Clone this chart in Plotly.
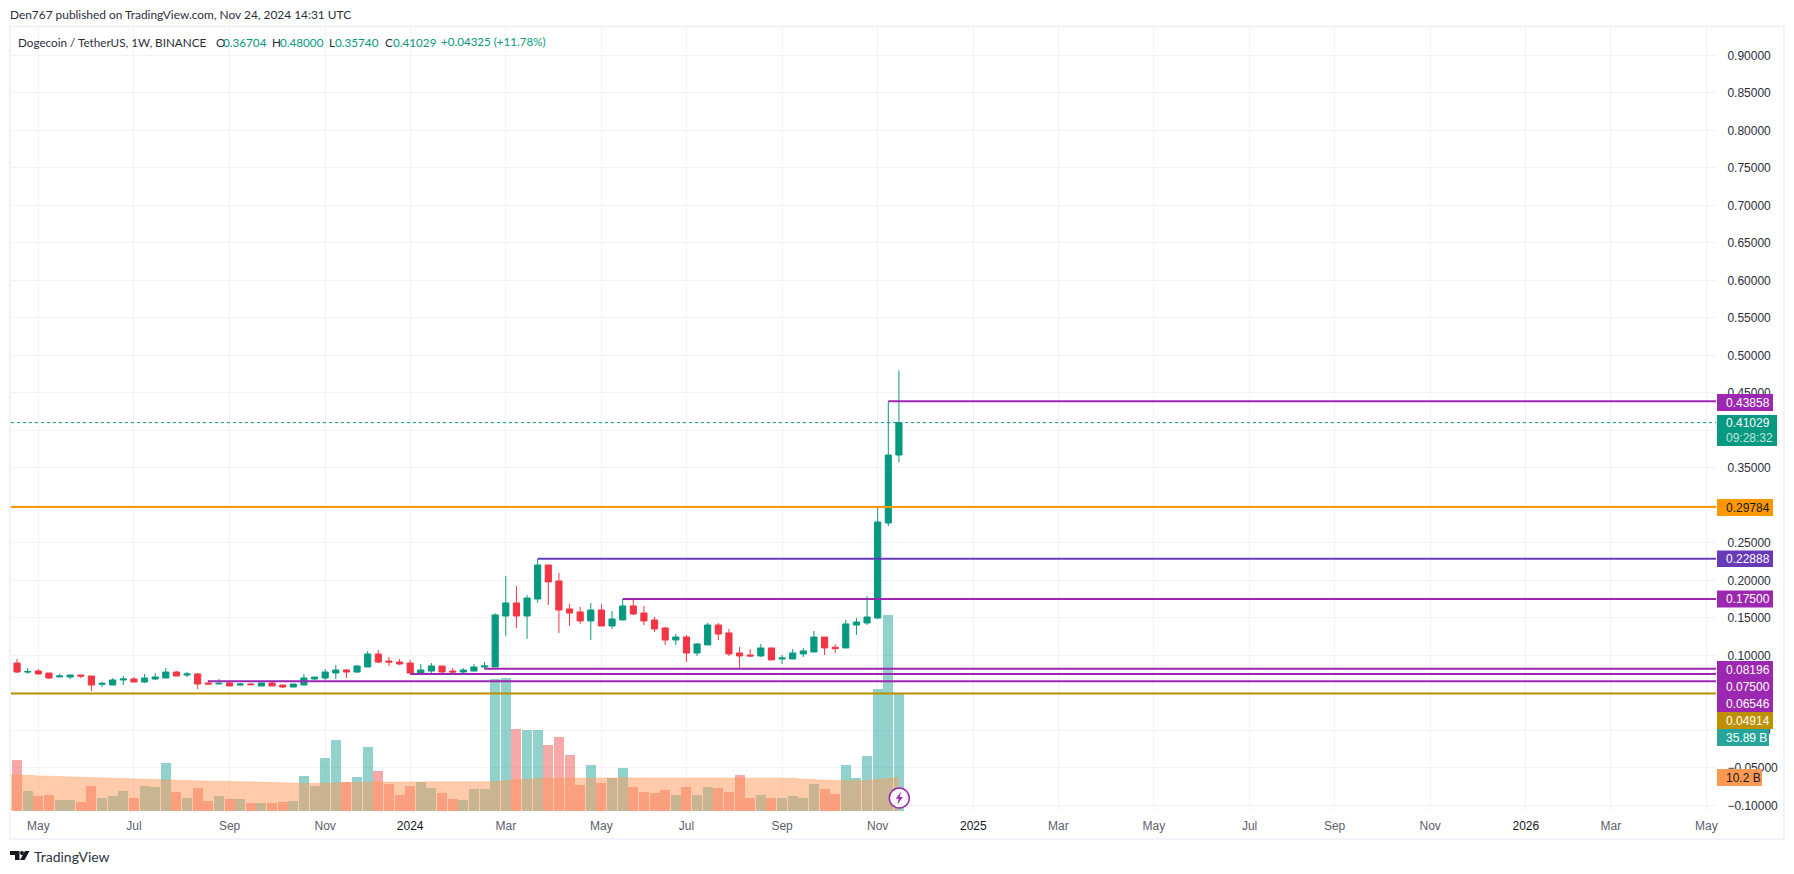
import pandas as pd
import plotly.graph_objects as go

# ---------- data ----------
first_week = "2023-04-17"
opens = [.0897,.0777,.0791,.0764,.0711,.0711,.0737,.0724,.0613,.0604,.0671,.0684,.0644,.0684,.0697,.0777,.0737,.0751,.0631,.0618,
         .0631,.0604,.0617,.0591,.0631,.0604,.0577,.0604,.0684,.0697,.0764,.0804,.0777,.0844,.1017,.0924,.0910,.0897,.0764,.0790,
         .0857,.0790,.0777,.0790,.0844,.0844,.1524,.1698,.1524,.1751,.2204,.1991,.1618,.1578,.1458,.1604,.1391,.1471,.1658,.1564,
         .1471,.1364,.1204,.1244,.1031,.1138,.1404,.1298,.1031,.1004,.0991,.1098,.0951,.0951,.1018,.1044,.1244,.1107,.1098,.1404,
         .1431,.1497,.2764,.36704]
highs = [.0951,.0831,.0817,.0764,.0751,.0737,.0737,.0724,.0644,.0697,.0724,.0711,.0751,.0764,.0831,.0791,.0777,.0764,.0671,.0684,
         .0644,.0631,.0631,.0631,.0644,.0604,.0617,.0750,.0710,.0817,.0870,.0817,.0870,.1057,.1070,.0977,.0950,.0937,.0884,.0897,
         .0857,.0830,.0830,.0884,.0910,.1560,.2058,.1924,.1804,.2284,.2204,.2098,.1684,.1644,.1698,.1684,.1591,.1751,.1751,.1658,
         .1511,.1378,.1284,.1271,.1164,.1431,.1431,.1351,.1111,.1084,.1151,.1098,.1004,.1084,.1098,.1324,.1244,.1151,.1471,.1498,
         .1791,.2964,.4386,.48000]
lows = [.0764,.0751,.0746,.0684,.0711,.0684,.0697,.0524,.0577,.0604,.0604,.0644,.0631,.0671,.0697,.0724,.0711,.0551,.0604,.0617,
        .0591,.0591,.0604,.0591,.0591,.0564,.0577,.0604,.0670,.0670,.0684,.0697,.0764,.0844,.0897,.0857,.0870,.0750,.0750,.0764,
        .0764,.0750,.0764,.0790,.0817,.0844,.1258,.1364,.1218,.1698,.1671,.1298,.1391,.1418,.1204,.1391,.1351,.1471,.1538,.1404,
        .1311,.1138,.1138,.0911,.0991,.1138,.1204,.0991,.0831,.0978,.0978,.0938,.0884,.0951,.0978,.1044,.1004,.1031,.1098,.1271,
        .1404,.1484,.2724,.35740]
closes = [.0777,.0782,.0751,.0697,.0724,.0737,.0724,.0604,.0626,.0671,.0684,.0644,.0697,.0711,.0777,.0724,.0751,.0617,.0617,.0626,
          .0591,.0617,.0608,.0631,.0591,.0577,.0617,.0697,.0710,.0777,.0804,.0777,.0857,.1017,.0910,.0910,.0884,.0764,.0804,.0857,
          .0777,.0777,.0804,.0844,.0857,.1538,.1698,.1524,.1764,.2204,.1978,.1604,.1564,.1458,.1604,.1391,.1484,.1658,.1551,.1458,
          .1351,.1204,.1244,.1031,.1151,.1404,.1284,.1018,.0991,.0991,.1098,.0938,.0964,.1031,.1058,.1244,.1098,.1089,.1418,.1444,
          .1511,.2777,.3670,.41029]
volumes_b = [15.6,6.05,4.5,4.8,3.3,3.3,2.7,7.6,3.9,4.5,6.05,3.9,7.6,7.3,14.7,5.7,3.9,7.0,3.0,4.5,
             3.6,3.6,2.4,2.4,2.4,2.7,3.0,10.7,7.6,16.2,21.7,8.8,10.4,19.6,12.2,8.2,4.8,7.6,8.8,7.0,
             5.4,3.6,3.3,6.8,6.8,40.5,40.9,25.2,24.9,24.9,20.3,22.8,17.2,8.0,14.2,8.6,10.2,13.2,7.4,5.8,
             5.5,6.5,4.9,7.4,4.9,7.4,7.1,5.8,11.1,4.0,4.9,4.0,4.0,4.6,4.0,8.3,6.8,5.2,14.2,10.2,
             16.9,37.5,60.3,35.89]
volume_ma_b = [11.0,11.0,10.9,10.7,10.6,10.5,10.4,10.2,10.0,10.0,9.9,9.9,9.8,9.7,9.6,9.5,9.4,9.3,9.2,9.1,
               9.1,9.0,9.0,8.9,8.6,8.5,8.4,8.4,8.4,8.4,8.5,8.6,8.6,8.7,8.8,8.8,8.8,8.8,8.7,8.7,
               8.7,8.7,8.7,8.7,8.8,8.9,9.0,9.3,9.5,9.7,9.9,10.0,10.0,10.0,10.0,10.1,10.1,10.1,10.1,10.1,
               10.1,10.1,10.1,10.1,10.1,10.1,10.1,10.1,10.1,10.1,10.1,10.1,10.1,10.1,10.0,9.7,9.5,9.3,9.3,9.2,
               9.2,9.3,9.6,10.0,10.2]

level_values = [0.43858, 0.29784, 0.22888, 0.17500, 0.08196, 0.07500, 0.06546, 0.04914]
level_starts = ["2024-11-11", None, "2024-03-25", "2024-05-20", "2024-02-19", "2024-01-01", "2023-08-21", None]
level_colors = ["#9C27B0", "#FF9800", "#673AB7", "#9C27B0", "#9C27B0", "#9C27B0", "#9C27B0", "#BF9000"]
last_price = 0.41029

price_ticks = [0.9,0.85,0.8,0.75,0.7,0.65,0.6,0.55,0.5,0.45,0.4,0.35,0.3,0.25,0.2,0.15,0.1,0.05,0.0,-0.05,-0.1]
time_tick_dates = ["2023-05-01","2023-07-03","2023-09-04","2023-11-06","2024-01-01","2024-03-04","2024-05-06","2024-07-01",
                   "2024-09-02","2024-11-04","2025-01-06","2025-03-03","2025-05-05","2025-07-07","2025-09-01","2025-11-03",
                   "2026-01-05","2026-03-02","2026-05-04"]
time_tick_labels = ["May","Jul","Sep","Nov","2024","Mar","May","Jul","Sep","Nov","2025","Mar","May","Jul","Sep","Nov","2026","Mar","May"]

# ---------- layout geometry ----------
W, H = 1794, 874
PL, PR, PT, PB = 11, 1716, 27, 811
PX_PER_WEEK = 10.625
X0_PX = 17.05
PRICE_PX = 750.0
PRICE_REF_PX = 355.3
VOL_PX = 3.25
VOL_BASE_PX = 810.7

def px(x): return (x - PL) / (PR - PL)
def py(y): return (PB - y) / (PB - PT)
def price_at(y): return 0.5 - (y - PRICE_REF_PX) / PRICE_PX
def date_at(x):
    return pd.Timestamp(first_week) + pd.Timedelta(days=7 * (x - X0_PX) / PX_PER_WEEK)

GREEN, RED = "#089981", "#F23645"
TEXT = "#2A2E39"
FONT = "Liberation Sans"
HFONT = "Lato"

weeks = pd.date_range(first_week, periods=len(opens), freq="7D")
ma_weeks = pd.date_range(pd.Timestamp(first_week) - pd.Timedelta(days=7), periods=len(volume_ma_b), freq="7D")
x_left, x_right = date_at(PL), date_at(PR)

fig = go.Figure()
bar_colors = ["rgba(38,166,154,0.5)" if c >= o else "rgba(239,83,80,0.5)" for o, c in zip(opens, closes)]
fig.add_bar(x=weeks, y=volumes_b, marker=dict(color=bar_colors, line_width=0),
            width=7 * 86400000 * 0.94, yaxis="y", showlegend=False)
fig.add_scatter(x=ma_weeks, y=volume_ma_b, mode="lines", fill="tozeroy",
                fillcolor="rgba(255,152,85,0.5)", line=dict(color="rgba(255,152,85,0.35)", width=1),
                yaxis="y", showlegend=False)
fig.add_candlestick(x=weeks, open=opens, high=highs, low=lows, close=closes, yaxis="y2",
                    increasing=dict(line=dict(color=GREEN, width=1), fillcolor=GREEN),
                    decreasing=dict(line=dict(color=RED, width=1), fillcolor=RED),
                    whiskerwidth=0, showlegend=False)
fig.add_scatter(x=[x_left, x_right], y=[last_price, last_price], mode="lines", yaxis="y2",
                line=dict(color=GREEN, width=1, dash="dot"), showlegend=False)
for val, start, col in zip(level_values, level_starts, level_colors):
    fig.add_scatter(x=[start if start else x_left, x_right], y=[val, val], mode="lines", yaxis="y2",
                    line=dict(color=col, width=2), showlegend=False)

def price_label(v):
    s = f"{abs(v):.5f}"
    return ("\u2212" + s) if v < 0 else s

def time_label(t):
    if t.isdigit():
        return f'<span style="color:#131722">{t}</span>'
    return t

shapes, annotations = [], []

def text(x, y, s, color=TEXT, size=12, family=FONT, anchor="left"):
    annotations.append(dict(xref="paper", yref="paper", x=px(x), y=py(y), text=s, showarrow=False,
                            xanchor=anchor, yanchor="middle", xshift=0, borderpad=0, align="left",
                            font=dict(family=family, size=size, color=color)))

def tag(y0, y1, x1, label, bg, fg="#FFFFFF"):
    shapes.append(dict(type="rect", xref="paper", yref="paper", layer="above",
                       x0=px(1717), x1=px(x1), y0=py(y1), y1=py(y0), fillcolor=bg, line_width=0))
    if label:
        text(1725, (y0 + y1) / 2, label, color=fg)

# frame
shapes.append(dict(type="rect", xref="paper", yref="paper", layer="above",
                   x0=px(10), x1=px(1784), y0=py(839), y1=py(26.5),
                   line=dict(color="#F0F3FA", width=2), fillcolor="rgba(0,0,0,0)"))

# price-scale tags (the stacked ones keep the order of the reference)
tag(394, 411, 1773, "0.43858", "#9C27B0")
tag(415, 446, 1777, "", GREEN)
text(1725, 423, "0.41029", color="#FFFFFF")
text(1725, 437.5, "09:28:32", color="#BFE6DF")
tag(499, 516, 1773, "0.29784", "#FF9800", "#131722")
tag(550.5, 567, 1773, "0.22888", "#673AB7")
tag(590.5, 607.5, 1773, "0.17500", "#9C27B0")
tag(661, 678, 1773, "0.08196", "#9C27B0")
tag(678, 695, 1773, "0.07500", "#9C27B0")
tag(695, 712, 1773, "0.06546", "#9C27B0")
tag(712, 729, 1773, "0.04914", "#BF9000")
tag(729, 746, 1769, "35.89 B", "#26A69A")
tag(769, 786, 1762, "10.2 B", "#FF9850", "#131722")

# header
text(9, 15, "Den767 published on TradingView.com, Nov 24, 2024 14:31 UTC", color=TEXT, family=HFONT, size=11.9)
text(17, 41.5, "Dogecoin / TetherUS, 1W, BINANCE", color=TEXT, family=HFONT, size=11.7)
for xl, lab, xv, val in [(214.5, "O", 222, "0.36704"), (271, "H", 279.4, "0.48000"),
                         (328.4, "L", 334, "0.35740"), (384, "C", 392, "0.41029")]:
    text(xl, 41.5, lab, color=TEXT, family=HFONT, size=11.7)
    text(xv, 41.5, val, color=GREEN, family=HFONT, size=11.7)
text(440, 41.5, "+0.04325 (+11.78%)", color=GREEN, family=HFONT, size=11.6)

# TradingView mark
def poly(points, fill):
    d = "M " + " L ".join(f"{px(a)} {py(b)}" for a, b in points) + " Z"
    shapes.append(dict(type="path", xref="paper", yref="paper", layer="above", path=d, fillcolor=fill, line_width=0))

poly([(10, 851), (19.5, 851), (19.5, 860), (15, 860), (15, 855), (10, 855)], "#131722")
shapes.append(dict(type="circle", xref="paper", yref="paper", layer="above", x0=px(20), x1=px(24),
                   y0=py(855.2), y1=py(851), fillcolor="#131722", line_width=0))
poly([(25, 851), (29.5, 851), (24.5, 860), (20, 860)], "#131722")
text(33, 856.7, "TradingView", color="#2E3340", size=14, family=HFONT)

# lightning icon
shapes.append(dict(type="circle", xref="paper", yref="paper", layer="above", x0=px(889.3), x1=px(909.3),
                   y0=py(808), y1=py(788), fillcolor="#FFFFFF", line=dict(color="#9C27B0", width=1.5)))
poly([(901.2, 791.5), (895.8, 798.8), (898.8, 798.8), (897.4, 804.5), (902.8, 797), (899.6, 797)], "#9C27B0")

fig.update_layout(
    width=W, height=H, autosize=False,
    margin=dict(l=PL, r=W - PR, t=PT, b=H - PB, pad=0),
    paper_bgcolor="#FFFFFF", plot_bgcolor="#FFFFFF",
    boxgap=0.42, boxgroupgap=0, bargap=0,
    shapes=shapes, annotations=annotations, showlegend=False, hovermode=False,
    xaxis=dict(type="date", range=[x_left, x_right], rangeslider=dict(visible=False),
               tickmode="array", tickvals=time_tick_dates, ticktext=[time_label(t) for t in time_tick_labels],
               showgrid=True, gridcolor="#F2F3F6", gridwidth=1, zeroline=False, showline=False,
               ticks="outside", ticklen=4, tickcolor="rgba(0,0,0,0)",
               tickfont=dict(family=FONT, size=12, color="#5D606B")),
    yaxis=dict(range=[(VOL_BASE_PX - PB) / VOL_PX, (VOL_BASE_PX - PT) / VOL_PX], showgrid=False, zeroline=False,
               showticklabels=False, showline=False, ticks=""),
    yaxis2=dict(overlaying="y", side="right", range=[price_at(PB), price_at(PT)],
                tickmode="array", tickvals=price_ticks, ticktext=[price_label(v) for v in price_ticks],
                showgrid=True, gridcolor="#F2F3F6", gridwidth=1, zeroline=False, showline=False,
                ticks="outside", ticklen=8, tickcolor="rgba(0,0,0,0)",
                tickfont=dict(family=FONT, size=12, color=TEXT)),
)

fig.write_html("out.html", config={"displayModeBar": False}, post_script="document.body.style.margin='0';")
